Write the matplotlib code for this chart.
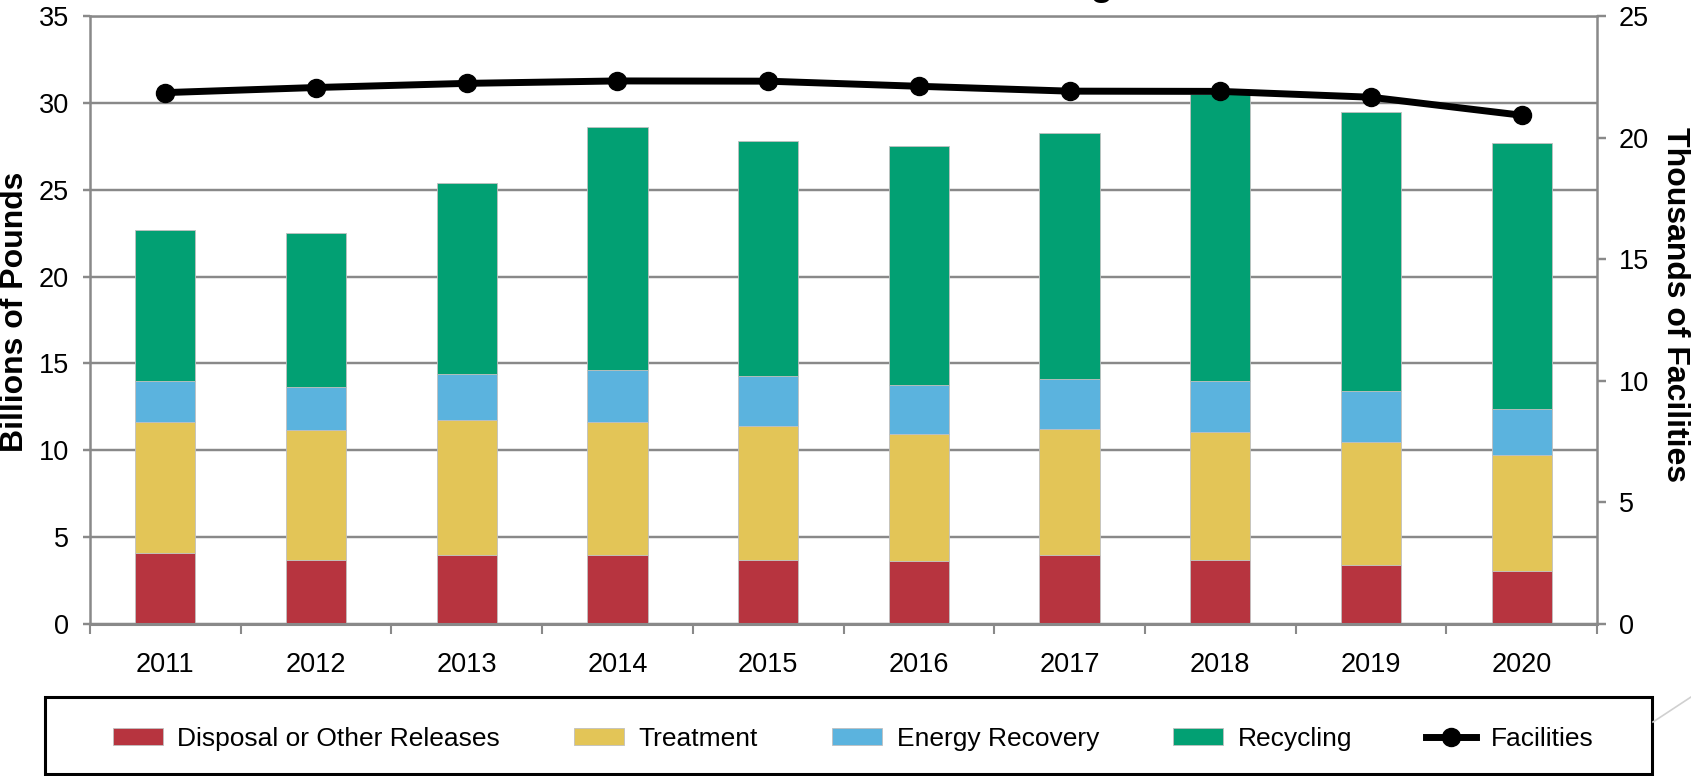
import numpy as np
import matplotlib
matplotlib.use('Agg')
import matplotlib.pyplot as plt
from matplotlib.patches import Rectangle
from matplotlib.lines import Line2D

plt.rcParams['font.family'] = ['Liberation Sans', 'DejaVu Sans']

# data (billions of pounds / thousands of facilities)
years = ['2011', '2012', '2013', '2014', '2015', '2016', '2017', '2018', '2019', '2020']
disposal = [4.1, 3.7, 3.95, 3.95, 3.7, 3.6, 3.95, 3.7, 3.4, 3.05]
treatment = [7.5, 7.45, 7.8, 7.65, 7.7, 7.35, 7.3, 7.35, 7.1, 6.65]
energy = [2.4, 2.5, 2.65, 3.0, 2.9, 2.8, 2.85, 2.95, 2.9, 2.7]
recycling = [8.7, 8.85, 11.0, 14.0, 13.5, 13.75, 14.15, 16.5, 16.1, 15.3]
facilities = [21.85, 22.06, 22.23, 22.33, 22.32, 22.11, 21.91, 21.9, 21.66, 20.92]

series = [
    ('Disposal or Other Releases', disposal, '#B7343F'),
    ('Treatment', treatment, '#E3C557'),
    ('Energy Recovery', energy, '#5BB3DE'),
    ('Recycling', recycling, '#02A073'),
]

GREY = '#898989'
W, H = 1691, 776

fig = plt.figure(figsize=(W / 100, H / 100), dpi=100)
ax = fig.add_axes([90 / W, 1 - 624 / H, 1507 / W, 608 / H])

x = np.arange(len(years))
bottom = np.zeros(len(years))
for name, vals, col in series:
    ax.bar(x, vals, 0.4, bottom=bottom, color=col, edgecolor='#c0c0c0',
           linewidth=0.6, label=name, zorder=2)
    bottom += np.array(vals)

ax.set_xlim(-0.5, len(years) - 0.5)
ax.set_ylim(0, 35)
ax.set_yticks(range(0, 36, 5))
ax.yaxis.grid(True, color=GREY, linewidth=1.75)
ax.set_axisbelow(True)
ax.set_xticks(x)
ax.set_xticklabels(years)
ax.set_xticks(np.arange(-0.5, len(years), 1), minor=True)
ax.tick_params(axis='x', which='major', length=0, pad=20, labelsize=19.5)
ax.tick_params(axis='x', which='minor', length=7, width=1.5, color=GREY)
ax.tick_params(axis='y', length=5, width=1.75, color=GREY, pad=10, labelsize=19.5)
for s in ['left', 'right', 'top', 'bottom']:
    ax.spines[s].set_color(GREY)
    ax.spines[s].set_linewidth(1.8)
ax.spines['bottom'].set_linewidth(2.2)

ax2 = ax.twinx()
ax2.plot(x, facilities, color='black', linewidth=5, marker='o',
         markersize=13, label='Facilities', zorder=3)
ax2.set_ylim(0, 25)
ax2.set_yticks(range(0, 26, 5))
ax2.tick_params(axis='y', length=6.5, width=1.75, color=GREY, pad=9, labelsize=19.5)
for s in ['left', 'right', 'top', 'bottom']:
    ax2.spines[s].set_visible(False)

fig.text(15 / W, 1 - 312 / H, 'Billions of Pounds', rotation=90, ha='center',
         va='center', fontsize=23, fontweight='bold')
fig.text(1675 / W, 1 - 305 / H, 'Thousands of Facilities', rotation=270,
         ha='center', va='center', fontsize=23, fontweight='bold')

# title sits above the slide edge, only its descender shows
fig.text(838 / W, 1 + 5 / H, 'Production-Related Waste Managed', ha='center',
         va='baseline', fontsize=27, fontweight='bold')

# legend
handles, labels = ax.get_legend_handles_labels()
h2, l2 = ax2.get_legend_handles_labels()
fig.legend(handles + h2, labels + l2, loc='center', bbox_to_anchor=(853 / W, 1 - 739 / H),
           ncol=5, frameon=False, fontsize=19, handlelength=1.9, handleheight=0.6,
           handletextpad=0.55, columnspacing=2.8)
fig.patches.append(Rectangle((45 / W, 1 - 774 / H), 1607 / W, 77 / H,
                             transform=fig.transFigure, fill=False,
                             edgecolor='black', linewidth=2.2))
fig.lines.append(Line2D([1653 / W, 1.0], [1 - 722 / H, 1 - 697 / H],
                        transform=fig.transFigure, color='#d0d0d0', linewidth=1.2))

fig.savefig('out.png', dpi=100)
